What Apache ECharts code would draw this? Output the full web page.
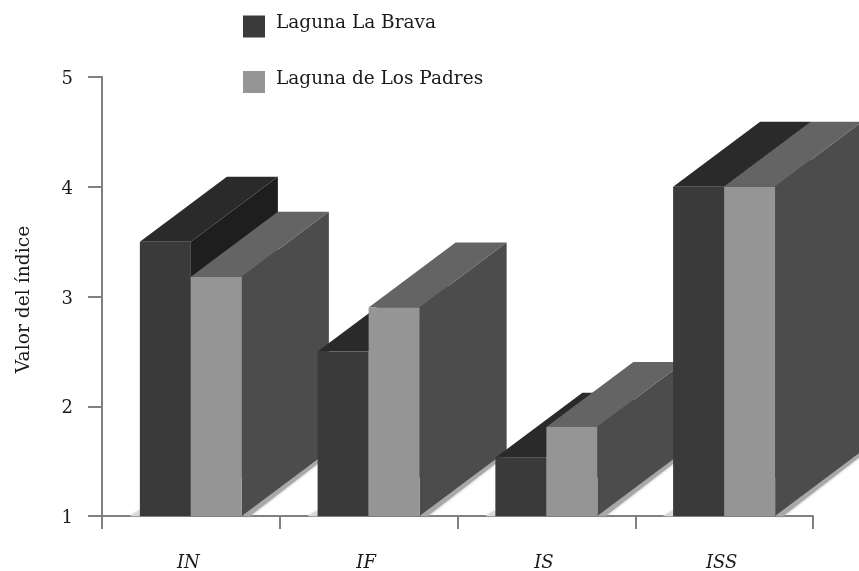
<!DOCTYPE html>
<html>
<head>
<meta charset="utf-8">
<style>
  html, body { margin: 0; padding: 0; background: #fff; }
  #chart { width: 859px; height: 571px; }
</style>
<script src="https://cdn.jsdelivr.net/npm/echarts@6/dist/echarts.min.js"></script>
</head>
<body>
<div id="chart"></div>
<script>
const categories = ['IN', 'IF', 'IS', 'ISS'];
const yTicks = { min: 1, max: 5, interval: 1 };
const seriesNames = ['Laguna La Brava', 'Laguna de Los Padres'];
const bravaValues = [3.5, 2.5, 1.53, 4.0];
const padresValues = [3.18, 2.9, 1.81, 4.0];

const FONT = 'DejaVu Serif';
const AXIS_COLOR = '#808080';
const TEXT_COLOR = '#1a1a1a';
// fake 3D depth, px
const DEPTH_X = 87;
const DEPTH_Y = 65;

const chart = echarts.init(document.getElementById('chart'));

function box(seriesIdx, colors) {
  return function (params, api) {
    const idx = api.value(0);
    const center = api.coord([idx, yTicks.min]);
    const top = api.coord([idx, api.value(1)]);
    const w = api.size([1, 0])[0] * 0.287;
    const x0 = seriesIdx === 0 ? center[0] - w : center[0];
    const x1 = x0 + w;
    const yb = center[1];
    const yt = top[1];
    // left to right over both series, otherwise the side faces overlap wrong
    let z2 = idx * 10 + seriesIdx * 4;
    const poly = (points, fill, extra) => ({
      type: 'polygon',
      z2: z2++,
      shape: { points: points },
      style: Object.assign({ fill: fill }, extra || {})
    });
    const children = [];
    if (seriesIdx === 0) {
      children.push(poly([[x0 - 10, yb], [x0, yb - 6], [x0, yb]], '#d8d8d8', { shadowBlur: 3, shadowColor: '#d8d8d8' }));
    } else {
      children.push(poly(
        [[x1, yb], [x1 + DEPTH_X, yb - DEPTH_Y], [x1 + DEPTH_X, yb - DEPTH_Y + 4], [x1 + 8, yb]],
        '#a8a8a8', { shadowBlur: 3, shadowColor: '#a8a8a8' }
      ));
    }
    children.push(poly([[x1, yt], [x1 + DEPTH_X, yt - DEPTH_Y], [x1 + DEPTH_X, yb - DEPTH_Y], [x1, yb]], colors.side));
    children.push(poly([[x0, yt], [x1, yt], [x1 + DEPTH_X, yt - DEPTH_Y], [x0 + DEPTH_X, yt - DEPTH_Y]], colors.top));
    children.push(poly([[x0, yt], [x1, yt], [x1, yb], [x0, yb]], colors.front));
    return { type: 'group', children: children };
  };
}

const option = {
  backgroundColor: '#fff',
  animation: false,
  textStyle: { fontFamily: FONT },
  legend: {
    left: 243,
    top: 14,
    orient: 'vertical',
    itemWidth: 22,
    itemHeight: 22,
    itemGap: 32,
    icon: 'rect',
    selectedMode: false,
    padding: 0,
    formatter: function (name) { return '{a|' + name + '}'; },
    textStyle: {
      fontFamily: FONT,
      fontSize: 18.5,
      color: TEXT_COLOR,
      rich: {
        // sits a bit above the swatch centre
        a: { fontFamily: FONT, fontSize: 18.5, color: TEXT_COLOR, verticalAlign: 'top', lineHeight: 25, padding: [0, 0, 0, 6] }
      }
    },
    data: seriesNames
  },
  grid: { left: 102, right: 46, top: 77, bottom: 55, outerBoundsMode: 'none' },
  xAxis: {
    type: 'category',
    data: categories,
    axisLine: { lineStyle: { color: AXIS_COLOR, width: 2 } },
    axisTick: { show: true, length: 13, lineStyle: { color: AXIS_COLOR, width: 2 } },
    axisLabel: { margin: 38, padding: [0, 5, 0, 0], fontFamily: FONT, fontStyle: 'italic', fontSize: 18, color: TEXT_COLOR }
  },
  yAxis: {
    type: 'value',
    min: yTicks.min,
    max: yTicks.max,
    interval: yTicks.interval,
    name: 'Valor del índice',
    nameLocation: 'middle',
    nameGap: 68,
    nameTextStyle: { fontFamily: FONT, fontSize: 18.7, color: TEXT_COLOR, padding: [0, 6, 0, 0] },
    axisLine: { show: true, lineStyle: { color: AXIS_COLOR, width: 2 } },
    axisTick: { show: true, length: 14, lineStyle: { color: AXIS_COLOR, width: 2 } },
    axisLabel: { margin: 29, verticalAlign: 'top', lineHeight: 5, fontFamily: FONT, fontSize: 18, color: TEXT_COLOR },
    splitLine: { show: false }
  },
  series: [
    {
      name: seriesNames[0],
      type: 'custom',
      z: 2,
      clip: false,
      itemStyle: { color: '#3a3a3a' },
      encode: { x: 0, y: 1 },
      renderItem: box(0, { front: '#3a3a3a', top: '#2a2a2a', side: '#1e1e1e' }),
      data: bravaValues.map((v, i) => [i, v])
    },
    {
      name: seriesNames[1],
      type: 'custom',
      z: 2,
      clip: false,
      itemStyle: { color: '#959595' },
      encode: { x: 0, y: 1 },
      renderItem: box(1, { front: '#959595', top: '#646464', side: '#4c4c4c' }),
      data: padresValues.map((v, i) => [i, v])
    }
  ]
};

chart.setOption(option);
window.addEventListener('resize', chart.resize);
</script>
</body>
</html>
